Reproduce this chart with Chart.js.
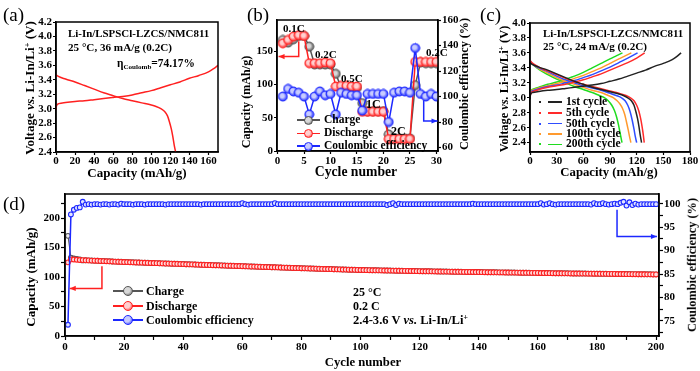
<!DOCTYPE html>
<html>
<head>
<meta charset="utf-8">
<script src="https://cdn.jsdelivr.net/npm/chart.js@4.4.1/dist/chart.umd.min.js"></script>
<style>
html,body{margin:0;padding:0;background:#fff;}
#wrap{position:relative;width:700px;height:371px;overflow:hidden;background:#fff;font-family:'Liberation Serif','Times New Roman',Times,serif;font-weight:bold;color:#000;}
#wrap canvas{position:absolute;left:0;top:0;}
.tx{position:absolute;white-space:nowrap;line-height:1;transform:translateY(-50%);z-index:5;}
.tc{position:absolute;white-space:nowrap;line-height:1;transform:translate(-50%,-50%);z-index:5;}
.tr{position:absolute;white-space:nowrap;line-height:1;transform:translate(-50%,-50%) rotate(-90deg);z-index:5;}
#wrap sup{font-size:0.62em;vertical-align:0;position:relative;top:-0.5em;}
#wrap sub{font-size:0.62em;vertical-align:0;position:relative;top:0.3em;}
.lg{position:absolute;z-index:5;}
</style>
</head>
<body>
<div id="wrap">
<canvas id="ca" width="700" height="371"></canvas>
<canvas id="cb" width="700" height="371"></canvas>
<canvas id="cc" width="700" height="371"></canvas>
<canvas id="cd" width="700" height="371"></canvas>
</div>
<script>
const FONT = "'Liberation Serif','Times New Roman',Times,serif";
const RED = '#ff2020', BLUE = '#1c28ff', GRAY = '#555555';

// ---------- (a) first cycle voltage profile ----------
const aChargeCap = [0,0.5,3,10,20,30,40,50,60,70,80,90,100,110,120,130,140,150,160,165,170];
const aChargeV   = [2.98,3.04,3.07,3.085,3.10,3.11,3.125,3.14,3.155,3.17,3.19,3.22,3.25,3.29,3.33,3.37,3.42,3.46,3.51,3.55,3.60];
const aDischargeCap = [0,2,10,20,30,40,50,60,70,80,90,100,105,110,114,117,119,121,122.5,124,125.5];
const aDischargeV   = [3.47,3.45,3.41,3.37,3.32,3.27,3.22,3.18,3.14,3.11,3.08,3.05,3.03,3.00,2.96,2.90,2.82,2.72,2.62,2.50,2.40];
const aXTicks = [0,20,40,60,80,100,120,140,160];
const aYTicks = [2.4,2.6,2.8,3.0,3.2,3.4,3.6,3.8,4.0,4.2];

// ---------- (b) rate capability ----------
const bCycles    = [1,2,3,4,5,6,7,8,9,10,11,12,13,14,15,16,17,18,19,20,21,22,23,24,25,26,27,28,29,30];
const bCharge    = [167,163,168,173,173,157,130,130,130,130,116,96,96,96,95,72,60,60,60,60,25,19,19,19,19,99,133,132,132,132];
const bDischarge = [162,167,172,174,173,132,132,132,133,132,97,98,98,97,97,59,59,59,59,59,18,18,18,18,18,134,134,134,134,134];
const bCE        = [100,106,104,103,100,86,100,104,101,102,86,103,102,101,101,89,102,102,102,102,80,103,104,104,103,138,102,100,102,100];
const bXTicks  = [0,5,10,15,20,25,30];
const bYTicks  = [0,50,100,150];
const bY2Ticks = [60,80,100,120,140,160];

// ---------- (c) voltage profiles of selected cycles ----------
const c1ChgCap = [0,0.5,3,10,20,30,40,50,60,70,80,90,100,110,120,130,140,150,160,165,170];
const c1ChgV   = [2.98,3.04,3.07,3.085,3.10,3.11,3.125,3.14,3.155,3.17,3.19,3.22,3.25,3.29,3.33,3.37,3.42,3.46,3.51,3.55,3.60];
const c1DisCap = [0,2,10,20,30,40,50,60,70,80,90,100,105,110,114,117,119,121,122.5,124,125.5];
const c1DisV   = [3.47,3.45,3.41,3.37,3.32,3.27,3.22,3.18,3.14,3.11,3.08,3.05,3.03,3.00,2.96,2.90,2.82,2.72,2.62,2.50,2.40];
const c5ChgCap = [0,1,5,10,20,30,40,50,60,70,80,90,100,110,120,129];
const c5ChgV   = [3.02,3.06,3.09,3.11,3.14,3.16,3.18,3.21,3.24,3.28,3.32,3.37,3.42,3.47,3.53,3.60];
const c5DisCap = [0,2,10,20,30,40,50,60,70,80,90,100,108,113,117,120,122.5,124.5,126,127.5,128.5];
const c5DisV   = [3.50,3.47,3.41,3.36,3.31,3.26,3.22,3.18,3.15,3.12,3.09,3.06,3.03,3.00,2.96,2.90,2.82,2.72,2.62,2.50,2.40];
const c50ChgCap = [0,1,5,10,20,30,40,50,60,70,80,90,100,110,121];
const c50ChgV   = [3.03,3.07,3.10,3.12,3.15,3.17,3.20,3.23,3.27,3.31,3.36,3.41,3.47,3.53,3.60];
const c50DisCap = [0,2,10,20,30,40,50,60,70,80,90,97,103,107,110,112.5,115,117,118.5,120];
const c50DisV   = [3.50,3.46,3.40,3.35,3.29,3.24,3.20,3.16,3.13,3.10,3.06,3.03,3.00,2.96,2.90,2.82,2.70,2.58,2.48,2.40];
const c100ChgCap = [0,1,5,10,20,30,40,50,60,70,80,90,100,107,114];
const c100ChgV   = [3.04,3.08,3.11,3.13,3.16,3.19,3.22,3.26,3.30,3.35,3.40,3.46,3.52,3.56,3.60];
const c100DisCap = [0,2,10,20,30,40,50,60,70,80,88,94,98,101,104,106.5,108.5,110.5,112,113.5];
const c100DisV   = [3.50,3.46,3.39,3.33,3.27,3.22,3.18,3.14,3.10,3.07,3.03,3.00,2.96,2.92,2.86,2.78,2.68,2.57,2.48,2.40];
const c200ChgCap = [0,1,5,10,20,30,40,50,60,70,80,90,97,104];
const c200ChgV   = [3.05,3.09,3.12,3.14,3.18,3.21,3.25,3.29,3.34,3.40,3.46,3.52,3.56,3.60];
const c200DisCap = [0,2,10,20,30,40,50,60,70,78,84,88,92,95,97.5,99.5,101,102.5,103.5];
const c200DisV   = [3.50,3.46,3.38,3.31,3.25,3.20,3.15,3.11,3.07,3.03,3.00,2.96,2.90,2.83,2.74,2.64,2.55,2.46,2.40];
const cLegend = ['1st cycle','5th cycle','50th cycle','100th cycle','200th cycle'];
const cXTicks = [0,30,60,90,120,150,180];
const cYTicks = [2.4,2.6,2.8,3.0,3.2,3.4,3.6,3.8,4.0];

// ---------- (d) long-term cycling ----------
const dCycles = Array.from({length:200}, (_, i) => i + 1);
const dCharge = [
170.0,133.1,131.5,130.7,130.0,128.3,128.6,128.4,128.1,127.9,
127.7,127.4,127.2,127.0,126.8,126.5,126.3,126.1,125.9,125.6,
125.5,125.3,125.1,124.9,124.8,124.6,124.4,124.2,124.0,123.9,
123.7,123.5,123.3,123.1,123.0,122.8,122.6,122.5,122.3,122.1,
121.9,121.7,121.6,121.4,121.2,121.0,120.8,120.7,120.5,120.3,
120.2,120.0,119.8,119.6,119.4,119.3,119.1,118.9,118.8,118.6,
118.4,118.2,118.0,117.9,117.7,117.5,117.3,117.2,117.0,116.8,
116.7,116.5,116.3,116.1,116.0,115.8,115.6,115.4,115.3,115.1,
114.9,114.8,114.6,114.5,114.3,114.1,114.0,113.8,113.7,113.6,
113.4,113.2,113.1,112.9,112.8,112.6,112.5,112.4,112.2,112.1,
112.0,111.9,111.8,111.7,111.6,111.5,111.4,111.3,111.2,111.1,
111.0,110.9,110.8,110.7,110.6,110.5,110.4,110.3,110.2,110.1,
110.0,109.9,109.9,109.8,109.7,109.6,109.5,109.4,109.4,109.3,
109.2,109.1,109.1,109.0,108.9,108.8,108.8,108.7,108.6,108.6,
108.5,108.4,108.3,108.3,108.2,108.1,108.0,108.0,107.9,107.8,
107.7,107.7,107.6,107.5,107.4,107.4,107.3,107.2,107.2,107.1,
107.0,106.9,106.9,106.8,106.7,106.6,106.6,106.5,106.4,106.4,
106.3,106.2,106.2,106.1,106.0,106.0,105.9,105.9,105.8,105.8,
105.7,105.6,105.6,105.5,105.5,105.4,105.3,105.3,105.2,105.1,
105.1,105.0,105.0,104.9,104.9,104.8,104.7,104.7,104.6,104.6];
const dDischarge = [
125.0,130.0,129.8,129.4,129.0,128.8,128.5,128.3,128.0,127.8,
127.6,127.3,127.1,126.9,126.7,126.4,126.2,126.0,125.8,125.5,
125.4,125.2,125.0,124.8,124.7,124.5,124.3,124.1,123.9,123.8,
123.6,123.4,123.2,123.0,122.9,122.7,122.5,122.4,122.2,122.0,
121.8,121.6,121.5,121.3,121.1,120.9,120.7,120.6,120.4,120.2,
120.1,119.9,119.7,119.5,119.3,119.2,119.0,118.8,118.7,118.5,
118.3,118.1,117.9,117.8,117.6,117.4,117.2,117.1,116.9,116.7,
116.6,116.4,116.2,116.0,115.9,115.7,115.5,115.3,115.2,115.0,
114.8,114.7,114.5,114.4,114.2,114.0,113.9,113.7,113.6,113.5,
113.3,113.1,113.0,112.8,112.7,112.5,112.4,112.3,112.1,112.0,
111.9,111.8,111.7,111.6,111.5,111.4,111.3,111.2,111.1,111.0,
110.9,110.8,110.7,110.6,110.5,110.4,110.3,110.2,110.1,110.0,
109.9,109.8,109.8,109.7,109.6,109.5,109.4,109.3,109.3,109.2,
109.1,109.0,109.0,108.9,108.8,108.7,108.7,108.6,108.5,108.5,
108.4,108.3,108.2,108.2,108.1,108.0,107.9,107.9,107.8,107.7,
107.6,107.6,107.5,107.4,107.3,107.3,107.2,107.1,107.1,107.0,
106.9,106.8,106.8,106.7,106.6,106.5,106.5,106.4,106.3,106.3,
106.2,106.1,106.1,106.0,105.9,105.9,105.8,105.8,105.7,105.7,
105.6,105.5,105.5,105.4,105.4,105.3,105.2,105.2,105.1,105.0,
105.0,104.9,104.9,104.8,104.8,104.7,104.6,104.6,104.5,104.5];
const dCE = [
74.2,97.7,98.7,99.1,99.2,100.4,99.8,99.9,99.8,99.9,
99.9,99.8,99.9,99.9,99.8,99.9,99.9,99.8,100.0,99.9,
99.9,99.9,99.8,99.9,99.9,99.9,99.8,99.9,99.9,99.9,
99.9,99.9,99.9,99.8,99.9,99.9,99.9,99.9,99.9,99.9,
99.9,99.9,99.9,99.9,99.9,99.8,99.9,99.9,99.9,99.9,
99.9,99.9,99.9,99.9,99.9,99.9,99.9,99.9,99.9,100.1,
99.9,99.8,99.9,99.9,99.9,99.9,99.9,99.9,99.9,99.9,
100.1,99.9,99.9,99.9,99.9,99.9,99.9,99.9,99.9,99.9,
99.9,99.9,99.9,99.9,99.9,99.9,99.9,99.9,99.9,99.9,
99.9,99.9,99.9,99.9,99.9,99.9,99.9,99.9,99.9,99.9,
99.9,99.9,99.9,99.9,99.9,99.9,99.9,99.9,99.7,99.9,
100.1,99.7,100.0,99.9,99.9,99.9,99.9,99.9,99.9,99.9,
99.9,99.9,99.9,99.9,99.9,99.9,99.9,99.9,99.9,99.9,
99.9,99.9,99.9,99.9,99.9,99.9,99.9,100.0,99.9,99.9,
99.9,99.9,99.9,99.9,99.9,99.9,99.9,99.9,99.9,99.9,
99.9,99.9,99.9,99.9,99.9,99.9,99.9,99.9,99.9,99.9,
100.1,99.8,99.9,100.1,99.9,99.8,99.9,99.9,99.9,99.9,
99.9,99.9,99.9,99.9,99.9,99.9,99.9,99.8,100.1,99.9,
99.9,100.1,99.9,99.8,99.9,100.0,99.9,100.2,100.4,99.6,
100.3,99.7,100.0,99.8,99.9,99.9,99.9,99.9,99.9,99.9];
const dXTicks = [0,20,40,60,80,100,120,140,160,180,200];
const dXMinor = [10,30,50,70,90,110,130,150,170,190];
const dYTicks = [0,50,100,150,200];
const dYMinor = [25,75,125,175,225];
const dY2Ticks = [75,80,85,90,95,100];
const dY2Minor = [72.5,77.5,82.5,87.5,92.5,97.5];
const dLegend = ['Charge','Discharge','Coulombic efficiency'];

// ---------- helpers ----------
const xy = (xs, ys) => xs.map((x, i) => ({x: x, y: ys[i]}));

function ball(color, light, r) {
  const s = Math.ceil(2 * r + 2);
  const c = document.createElement('canvas');
  c.width = s; c.height = s;
  const g = c.getContext('2d');
  const m = s / 2;
  const gr = g.createRadialGradient(m - r * 0.3, m - r * 0.3, 0, m, m, r);
  gr.addColorStop(0, light); gr.addColorStop(0.45, light); gr.addColorStop(1, color);
  g.fillStyle = gr; g.beginPath(); g.arc(m, m, r, 0, Math.PI * 2); g.fill();
  g.lineWidth = 1; g.strokeStyle = color; g.stroke();
  return c;
}
const ballGray = ball(GRAY, '#d8d8d8', 4.5);
const ballRed = ball(RED, '#ffd0d0', 4.5);
const ballBlue = ball(BLUE, '#c8ccff', 4.5);

function mkAxis(o) {
  const major = o.ticks;
  const all = (o.minor ? major.concat(o.minor) : major.slice()).sort((p, q) => p - q);
  return {
    type: 'linear', position: o.pos, min: o.min, max: o.max,
    afterBuildTicks: s => { s.ticks = all.map(v => ({value: v})); },
    afterFit: s => {
      if (o.pos === 'bottom') s.height = o.size; else s.width = o.size;
      s.paddingLeft = 0; s.paddingRight = 0; s.paddingTop = 0; s.paddingBottom = 0;
    },
    grid: {display: true, drawOnChartArea: false, drawTicks: true, tickLength: o.tl || 4, tickColor: '#000', tickWidth: 1.2},
    border: {display: true, color: '#000', width: 1.5},
    ticks: {color: '#000', padding: (o.pad === undefined ? 1 : o.pad), autoSkip: false, maxRotation: 0, minRotation: 0,
      font: {family: FONT, size: o.fs || 11, weight: 'bold'},
      callback: v => major.some(m => Math.abs(m - v) < 1e-9) ? o.fmt(v) : ''}
  };
}

const framePlugin = {
  id: 'frame',
  afterDatasetsDraw(chart) {
    const {ctx, chartArea: a} = chart;
    ctx.save(); ctx.strokeStyle = '#000'; ctx.lineWidth = 1.5;
    ctx.strokeRect(a.left, a.top, a.right - a.left, a.bottom - a.top);
    ctx.restore();
  }
};
const arrowPlugin = {
  id: 'arrows',
  afterDatasetsDraw(chart, args, opts) {
    const ctx = chart.ctx;
    (opts.items || []).forEach(it => {
      const xs = chart.scales.x, ys = chart.scales[it.axis];
      const p = it.points.map(q => [xs.getPixelForValue(q[0]), ys.getPixelForValue(q[1])]);
      ctx.save(); ctx.strokeStyle = it.color; ctx.fillStyle = it.color; ctx.lineWidth = 1.5;
      ctx.beginPath(); ctx.moveTo(p[0][0], p[0][1]);
      for (let i = 1; i < p.length; i++) ctx.lineTo(p[i][0], p[i][1]);
      ctx.stroke();
      const [x1, y1] = p[p.length - 2], [x2, y2] = p[p.length - 1];
      const an = Math.atan2(y2 - y1, x2 - x1), L = 6, W = 2.6;
      ctx.beginPath(); ctx.moveTo(x2, y2);
      ctx.lineTo(x2 - L * Math.cos(an) + W * Math.sin(an), y2 - L * Math.sin(an) - W * Math.cos(an));
      ctx.lineTo(x2 - L * Math.cos(an) - W * Math.sin(an), y2 - L * Math.sin(an) + W * Math.cos(an));
      ctx.closePath(); ctx.fill();
      ctx.restore();
    });
  }
};
Chart.register(framePlugin, arrowPlugin);

function opts(pad, scales, arrows) {
  return {
    responsive: false, maintainAspectRatio: false, animation: false, devicePixelRatio: 1,
    layout: {padding: pad}, scales: scales,
    plugins: {legend: {display: false}, tooltip: {enabled: false}, arrows: {items: arrows || []}}
  };
}
const f1 = v => v.toFixed(1), f0 = v => String(Math.round(v));
const curve = (d, color, w) => ({data: d, borderColor: color, borderWidth: w || 1.5, pointRadius: 0, cubicInterpolationMode: 'monotone', fill: false});

// ---------- chart (a): area L56 T22 R218 B152 ----------
new Chart(document.getElementById('ca'), {
  type: 'line',
  data: {datasets: [curve(xy(aChargeCap, aChargeV), RED), curve(xy(aDischargeCap, aDischargeV), RED)]},
  options: opts({left: 16, top: 22, right: 482, bottom: 199}, {
    x: mkAxis({pos: 'bottom', min: 0, max: 170, ticks: aXTicks, fmt: f0, size: 20, tl: 3, pad: 0}),
    y: mkAxis({pos: 'left', min: 2.4, max: 4.2, ticks: aYTicks, fmt: f1, size: 40, tl: 3, pad: 1})
  })
});

// ---------- chart (b): area L277 T20 R438 B151 ----------
new Chart(document.getElementById('cb'), {
  type: 'line',
  data: {datasets: [
    {label: 'Charge', data: xy(bCycles, bCharge), yAxisID: 'y', borderColor: GRAY, borderWidth: 1.5, pointStyle: ballGray, pointRadius: 4.5, order: 3},
    {label: 'Discharge', data: xy(bCycles, bDischarge), yAxisID: 'y', borderColor: RED, borderWidth: 1.5, pointStyle: ballRed, pointRadius: 4.5, order: 2},
    {label: 'Coulombic efficiency', data: xy(bCycles, bCE), yAxisID: 'y2', borderColor: BLUE, borderWidth: 1.5, pointStyle: ballBlue, pointRadius: 4.5, order: 1}
  ]},
  options: opts({left: 237, top: 20, right: 232, bottom: 200}, {
    x: mkAxis({pos: 'bottom', min: -0.1, max: 30.3, ticks: bXTicks, fmt: f0, size: 20, tl: 3, pad: 1}),
    y: mkAxis({pos: 'left', min: 0, max: 197, ticks: bYTicks, fmt: f0, size: 40, tl: 3, pad: 1}),
    y2: mkAxis({pos: 'right', min: 57.3, max: 160, ticks: bY2Ticks, fmt: f0, size: 30, tl: 3, pad: 1})
  }, [
    {axis: 'y', color: RED, points: [[4.0, 165], [4.0, 142], [0.2, 142]]},
    {axis: 'y2', color: BLUE, points: [[27.6, 97], [27.6, 80.8], [30.2, 80.8]]}
  ])
});

// ---------- chart (c): area L530 T23 R690 B152 ----------
const cColors = ['#222222', '#ff2a2a', '#2f4dff', '#ff9a2e', '#1fdc1f'];
new Chart(document.getElementById('cc'), {
  type: 'line',
  data: {datasets: [
    curve(xy(c1ChgCap, c1ChgV), cColors[0]), curve(xy(c1DisCap, c1DisV), cColors[0]),
    curve(xy(c5ChgCap, c5ChgV), cColors[1]), curve(xy(c5DisCap, c5DisV), cColors[1]),
    curve(xy(c50ChgCap, c50ChgV), cColors[2]), curve(xy(c50DisCap, c50DisV), cColors[2]),
    curve(xy(c100ChgCap, c100ChgV), cColors[3]), curve(xy(c100DisCap, c100DisV), cColors[3]),
    curve(xy(c200ChgCap, c200ChgV), cColors[4]), curve(xy(c200DisCap, c200DisV), cColors[4])
  ]},
  options: opts({left: 490, top: 23, right: 10, bottom: 199}, {
    x: mkAxis({pos: 'bottom', min: 0, max: 180, ticks: cXTicks, fmt: f0, size: 20, tl: 3, pad: 0}),
    y: mkAxis({pos: 'left', min: 2.275, max: 4.0, ticks: cYTicks, fmt: f1, size: 40, tl: 3, pad: 1})
  })
});

// ---------- chart (d): area L65 T194 R659 B336 ----------
new Chart(document.getElementById('cd'), {
  type: 'line',
  data: {datasets: [
    {data: xy(dCycles, dCharge), yAxisID: 'y', borderColor: GRAY, borderWidth: 1, pointRadius: 2.4, pointBorderWidth: 1.1, pointBorderColor: GRAY, pointBackgroundColor: '#eeeeee', order: 3},
    {data: xy(dCycles, dDischarge), yAxisID: 'y', borderColor: RED, borderWidth: 1, pointRadius: 2.4, pointBorderWidth: 1.1, pointBorderColor: RED, pointBackgroundColor: '#ffdcdc', order: 2},
    {data: xy(dCycles, dCE), yAxisID: 'y2', borderColor: BLUE, borderWidth: 1.5, pointRadius: 2.4, pointBorderWidth: 1.1, pointBorderColor: BLUE, pointBackgroundColor: '#e0e3ff', order: 1}
  ]},
  options: opts({left: 25, top: 194, right: 11, bottom: 15}, {
    x: mkAxis({pos: 'bottom', min: 0, max: 201, ticks: dXTicks, minor: dXMinor, fmt: f0, size: 20, tl: 4, pad: 1}),
    y: mkAxis({pos: 'left', min: 0, max: 241, ticks: dYTicks, minor: dYMinor, fmt: f0, size: 40, tl: 4, pad: 1}),
    y2: mkAxis({pos: 'right', min: 71.8, max: 102.06, ticks: dY2Ticks, minor: dY2Minor, fmt: f0, size: 30, tl: 4, pad: 1})
  }, [
    {axis: 'y', color: RED, points: [[12.5, 118.5], [12.5, 80.7], [1.6, 80.7]]},
    {axis: 'y2', color: BLUE, points: [[186.8, 98.7], [186.8, 93.0], [200.3, 93.0]]}
  ])
});

// ---------- text (real DOM text); optional target width rescales the font ----------
const wrap = document.getElementById('wrap');
function T(cls, html, x, y, size, weight, targetW) {
  const d = document.createElement('div');
  d.className = cls; d.innerHTML = html;
  d.style.left = x + 'px'; d.style.top = y + 'px'; d.style.fontSize = size + 'px';
  if (weight) d.style.fontWeight = weight;
  wrap.appendChild(d);
  if (targetW) {
    const w = d.offsetWidth;
    if (w > 0) d.style.fontSize = (size * targetW / w).toFixed(2) + 'px';
  }
  return d;
}
function box(x, y, w, h, bg, extra) {
  const d = document.createElement('div');
  d.className = 'lg';
  d.style.cssText += 'left:' + x + 'px;top:' + y + 'px;width:' + w + 'px;height:' + h + 'px;background:' + bg + ';' + (extra || '');
  wrap.appendChild(d);
}
function legendBall(cx, cy, r, color, light) {
  box(cx - r, cy - r, 2 * r, 2 * r, 'radial-gradient(circle at 38% 38%, ' + light + ' 0%, ' + light + ' 40%, ' + color + ' 100%)',
    'border-radius:50%;box-sizing:border-box;border:1px solid ' + color + ';');
}
const VS = 'Voltage <i>vs.</i> Li-In/Li<sup>+</sup> (V)';

// (a)
T('tx', '(a)', 3, 14, 19, 'normal');
T('tr', VS, 30, 88, 13, null, 134);
T('tc', 'Capacity (mAh/g)', 137, 172, 13, null, 99);
T('tx', 'Li-In/LSPSCl-LZCS/NMC811', 68, 32.5, 12, null, 141);
T('tx', '25 °C, 36 mA/g (0.2C)', 68, 47.7, 12, null, 104);
T('tx', '&eta;<sub>Coulomb</sub>=74.17%', 117, 64, 12, null, 78);

// (b)
T('tx', '(b)', 247, 14, 19, 'normal');
T('tr', 'Capacity (mAh/g)', 245.5, 102, 12.5, null, 92);
T('tr', 'Coulombic efficiency (%)', 464, 84, 12.5, null, 132);
T('tc', 'Cycle number', 356, 172, 13.5, null, 82);
T('tx', '0.1C', 283, 28, 12, null, 22);
T('tx', '0.2C', 315, 54, 12, null, 22);
T('tx', '0.5C', 341, 78, 12, null, 22);
T('tx', '1C', 366, 104, 12);
T('tx', '2C', 391, 131, 12);
T('tx', '0.2C', 426, 52, 12, null, 22);
const bLeg = [['Charge', GRAY, '#d8d8d8', 120], ['Discharge', RED, '#ffd0d0', 133.3], ['Coulombic efficiency', BLUE, '#c8ccff', 146]];
bLeg.forEach(l => {
  box(297, l[3] - 0.75, 23, 1.5, l[1]);
  legendBall(308.5, l[3], 4.5, l[1], l[2]);
  T('tx', l[0], 324, l[3], 11.5);
});

// (c)
T('tx', '(c)', 480, 14, 19, 'normal');
T('tr', VS, 504, 89, 13, null, 127);
T('tc', 'Capacity (mAh/g)', 609, 172, 13, null, 97);
T('tx', 'Li-In/LSPSCl-LZCS/NMC811', 543, 32.7, 12, null, 140);
T('tx', '25 °C, 24 mA/g (0.2C)', 543, 46.7, 12, null, 104);
const cRows = [102, 113, 123.7, 134, 144.3];
cLegend.forEach((s, i) => {
  box(539, cRows[i] - 1, 2, 2, cColors[i]);
  box(548, cRows[i] - 0.75, 14, 1.5, cColors[i]);
  T('tx', s, 566, cRows[i], 11.5);
});

// (d)
T('tx', '(d)', 3, 203, 19, 'normal');
T('tr', 'Capacity (mAh/g)', 30, 277, 13, null, 99);
T('tr', 'Coulombic efficiency (%)', 692, 265, 12.5, null, 134);
T('tc', 'Cycle number', 363, 362, 13, null, 76);
const dRows = [291, 305.7, 320];
const dCols = [[GRAY, '#d8d8d8'], [RED, '#ffd0d0'], [BLUE, '#c8ccff']];
dLegend.forEach((s, i) => {
  box(113, dRows[i] - 1, 30, 2, dCols[i][0]);
  legendBall(128, dRows[i], 5, dCols[i][0], dCols[i][1]);
  T('tx', s, 146, dRows[i], 12);
});
T('tx', '25 °C', 353, 291.7, 12);
T('tx', '0.2 C', 353, 305.7, 12);
T('tx', '2.4-3.6 V <i>vs.</i> Li-In/Li<sup>+</sup>', 353, 320, 12, null, 115);
</script>
</body>
</html>
